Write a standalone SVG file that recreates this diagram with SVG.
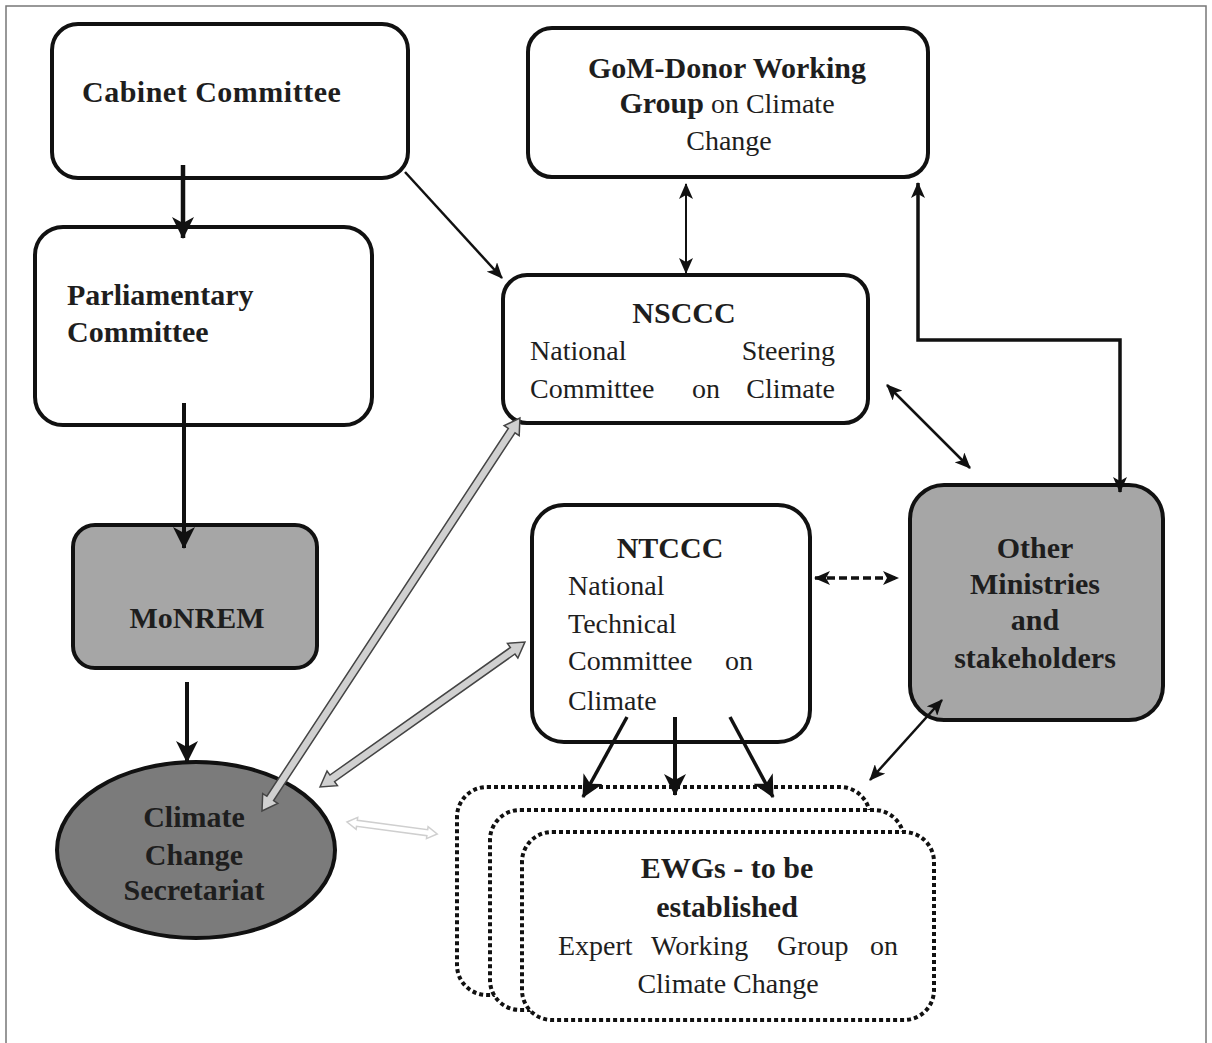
<svg xmlns="http://www.w3.org/2000/svg" width="1212" height="1043" viewBox="0 0 1212 1043">
<style>
.box{fill:#fff;stroke:#111;stroke-width:4}
.gray{fill:#a6a6a6;stroke:#111;stroke-width:4}
.dark{fill:#7b7b7b;stroke:#111;stroke-width:4}
.dot{fill:#fff;stroke:#111;stroke-width:4;stroke-dasharray:4 3}
.b{font-family:"Liberation Serif","Times New Roman",serif;font-weight:bold;font-size:30px;fill:#1e1e1e}
.r{font-family:"Liberation Serif","Times New Roman",serif;font-size:28px;fill:#1e1e1e}
.c{text-anchor:middle}
.ln{stroke:#111;fill:none}
.block{fill:#d0d0d0;stroke:#444;stroke-width:1.5}
.faint{fill:#fff;stroke:#cfcfcf;stroke-width:1.5}
</style>
<defs>
<marker id="ah" viewBox="0 0 16 14" markerWidth="16" markerHeight="14" refX="15" refY="7" orient="auto-start-reverse" markerUnits="userSpaceOnUse"><path d="M0,0 L16,7 L0,14 L4,7 z" fill="#111"/></marker>
<marker id="ahBig" viewBox="0 0 22 22" markerWidth="22" markerHeight="22" refX="21" refY="11" orient="auto-start-reverse" markerUnits="userSpaceOnUse"><path d="M0,0 L22,11 L0,22 L6,11 z" fill="#111"/></marker>
</defs>
<rect x="6" y="6" width="1200" height="1060" fill="none" stroke="#777" stroke-width="1.5"/>

<g id="cabinet">
<rect class="box" x="52" y="24" width="356" height="154" rx="26"/>
<text class="b" x="82" y="102" letter-spacing="0.5">Cabinet Committee</text>
</g>
<g id="parliamentary">
<rect class="box" x="35" y="227" width="337" height="198" rx="28"/>
<text class="b" x="67" y="305">Parliamentary</text>
<text class="b" x="67" y="342">Committee</text>
</g>
<g id="monrem">
<rect class="gray" x="73" y="525" width="244" height="143" rx="22"/>
<text class="b c" x="197" y="628">MoNREM</text>
</g>
<g id="secretariat">
<ellipse class="dark" cx="196" cy="850" rx="139" ry="88"/>
<text class="b c" x="194" y="827">Climate</text>
<text class="b c" x="194" y="865">Change</text>
<text class="b c" x="194" y="900">Secretariat</text>
</g>
<g id="gom">
<rect class="box" x="528" y="28" width="400" height="149" rx="24"/>
<text class="b c" x="727" y="78">GoM-Donor Working</text>
<text class="c" x="727" y="113"><tspan class="b">Group</tspan><tspan class="r"> on Climate</tspan></text>
<text class="r c" x="729" y="150">Change</text>
</g>
<g id="nsccc">
<rect class="box" x="503" y="275" width="365" height="148" rx="24"/>
<text class="b c" x="684" y="323">NSCCC</text>
<text class="r" y="360"><tspan x="530">National</tspan><tspan x="835" text-anchor="end">Steering</tspan></text>
<text class="r" y="398"><tspan x="530">Committee</tspan><tspan x="706" text-anchor="middle">on</tspan><tspan x="835" text-anchor="end">Climate</tspan></text>
</g>
<g id="ntccc">
<rect class="box" x="532" y="505" width="278" height="237" rx="32"/>
<text class="b c" x="670" y="558">NTCCC</text>
<text class="r" x="568" y="595">National</text>
<text class="r" x="568" y="633">Technical</text>
<text class="r" y="670"><tspan x="568">Committee</tspan><tspan x="753" text-anchor="end">on</tspan></text>
<text class="r" x="568" y="710">Climate</text>
</g>
<g id="other">
<rect class="gray" x="910" y="485" width="253" height="235" rx="34"/>
<text class="b c" x="1035" y="558">Other</text>
<text class="b c" x="1035" y="594">Ministries</text>
<text class="b c" x="1035" y="630">and</text>
<text class="b c" x="1035" y="668">stakeholders</text>
</g>
<g id="ewgs">
<rect class="dot" x="457" y="787" width="413" height="208" rx="30"/>
<rect class="dot" x="490" y="810" width="414" height="200" rx="30"/>
<rect class="dot" x="522" y="832" width="412" height="188" rx="30"/>
<text class="b c" x="727" y="878">EWGs - to be</text>
<text class="b c" x="727" y="917">established</text>
<text class="r" y="955"><tspan x="558">Expert</tspan><tspan x="651">Working</tspan><tspan x="777">Group</tspan><tspan x="898" text-anchor="end">on</tspan></text>
<text class="r c" x="728" y="993">Climate Change</text>
</g>

<g id="connectors">
<line class="ln" x1="183" y1="165" x2="183" y2="238" stroke-width="4.5" marker-end="url(#ahBig)"/>
<line class="ln" x1="184" y1="403" x2="184" y2="548" stroke-width="4" marker-end="url(#ahBig)"/>
<line class="ln" x1="187" y1="682" x2="187" y2="762" stroke-width="4" marker-end="url(#ahBig)"/>
<line class="ln" x1="405" y1="172" x2="502" y2="278" stroke-width="2.5" marker-end="url(#ah)"/>
<line class="ln" x1="686" y1="184" x2="686" y2="273" stroke-width="2" marker-start="url(#ah)" marker-end="url(#ah)"/>
<path class="ln" d="M1120,492 V340 H918 V183" stroke-width="3.5" marker-start="url(#ah)" marker-end="url(#ah)"/>
<line class="ln" x1="887" y1="385" x2="970" y2="468" stroke-width="2.5" marker-start="url(#ah)" marker-end="url(#ah)"/>
<line class="ln" x1="815" y1="578" x2="898" y2="578" stroke-width="3.5" stroke-dasharray="8 4" marker-start="url(#ah)" marker-end="url(#ah)"/>
<line class="ln" x1="942" y1="700" x2="870" y2="780" stroke-width="2.5" marker-start="url(#ah)" marker-end="url(#ah)"/>
<line class="ln" x1="627" y1="717" x2="583" y2="797" stroke-width="3.5" marker-end="url(#ahBig)"/>
<line class="ln" x1="675" y1="717" x2="675" y2="795" stroke-width="4" marker-end="url(#ahBig)"/>
<line class="ln" x1="730" y1="717" x2="773" y2="797" stroke-width="3.5" marker-end="url(#ahBig)"/>
</g>

<g id="block-arrows">
<g transform="translate(262,811) rotate(-56.72)"><polygon class="block" points="0,0 15,-9 15,-4 455,-4 455,-9 470,0 455,9 455,4 15,4 15,9"/></g>
<g transform="translate(320,787) rotate(-35.27)"><polygon class="block" points="0,0 15,-9 15,-4 236,-4 236,-9 251,0 236,9 236,4 15,4 15,9"/></g>
<g transform="translate(347,822) rotate(7.6)"><polygon class="faint" points="0,0 10,-6 10,-3 81,-3 81,-6 91,0 81,6 81,3 10,3 10,6"/></g>
</g>
</svg>
